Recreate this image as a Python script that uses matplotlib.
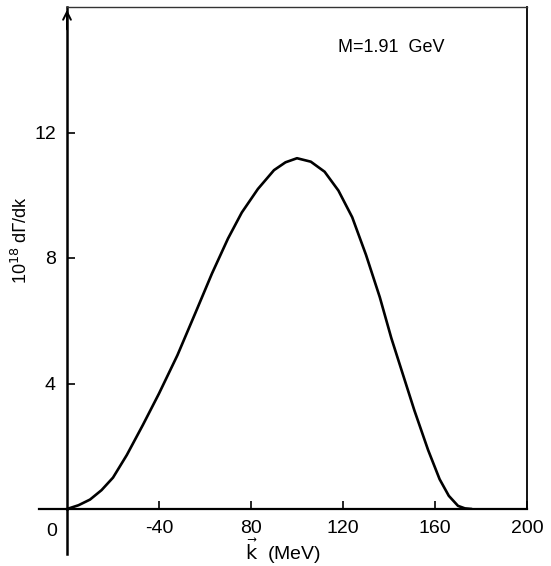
import matplotlib
matplotlib.use("Agg")
import matplotlib.pyplot as plt

# values
k_mev = [0, 5, 10, 15, 20, 26, 33, 40, 48, 56, 63, 70, 76, 83, 90, 95, 100,
         106, 112, 118, 124, 130, 136, 141, 146, 151, 157, 162, 166, 170,
         173, 176]
dgamma_dk = [0, 0.12, 0.3, 0.6, 1.0, 1.72, 2.68, 3.68, 4.9, 6.28, 7.5, 8.62,
             9.45, 10.2, 10.8, 11.05, 11.18, 11.07, 10.75, 10.15, 9.3, 8.1,
             6.75, 5.45, 4.3, 3.15, 1.88, 0.95, 0.42, 0.1, 0.02, 0]

x_ticks = [40, 80, 120, 160, 200]
x_tick_labels = ["-40", "80", "120", "160", "200"]
y_ticks = [4, 8, 12]
y_tick_labels = ["4", "8", "12"]

plt.rcParams['font.family'] = ['Liberation Sans', 'DejaVu Sans']

fig = plt.figure(figsize=(5.51, 5.66), dpi=100)
W, H = 551, 566
ax = fig.add_axes([67 / W, 1 - 509 / H, (527 - 67) / W, (509 - 7) / H])

ax.plot(k_mev, dgamma_dk, color="black", lw=1.9, solid_capstyle="round",
        solid_joinstyle="round")

ax.set_xlim(0, 200)
ax.set_ylim(0, 16)

ax.set_xticks(x_ticks)
ax.set_xticklabels(x_tick_labels)
ax.set_yticks(y_ticks)
ax.set_yticklabels(y_tick_labels)
ax.tick_params(axis="both", direction="in", length=6, width=1.2,
               labelsize=14, colors="black")
ax.tick_params(axis="x", pad=8)
ax.tick_params(axis="y", pad=8)

# frame: heavy axes, light top/right border
ax.spines['left'].set_linewidth(1.8)
ax.spines['bottom'].set_linewidth(1.6)
ax.spines['top'].set_linewidth(1.0)
ax.spines['right'].set_linewidth(1.3)
ax.spines['top'].set_color("#333333")

# axis lines running past the origin
ax.plot([0, 0], [0, -0.09], transform=ax.transAxes, color="black",
        lw=1.8, clip_on=False)
ax.plot([-0.06, 0], [0, 0], transform=ax.transAxes, color="black",
        lw=1.6, clip_on=False)

# arrowhead on the vertical axis
ax.annotate("", xy=(0, 1.0), xytext=(0, 0.95), xycoords="axes fraction",
            arrowprops=dict(arrowstyle="->", lw=1.4, color="black",
                            mutation_scale=14))

ax.text(-0.022, -0.045, "0", transform=ax.transAxes, ha="right",
        va="center", fontsize=14)

ax.text(0.47, -0.085, r"$\vec{\mathrm{k}}$  (MeV)", transform=ax.transAxes,
        ha="center", va="center", fontsize=14)
ax.text(-0.1, 0.535, r"10$^{18}$ d$\Gamma$/dk", transform=ax.transAxes,
        ha="center", va="center", rotation=90, fontsize=13)

ax.text(0.59, 0.92, "M=1.91  GeV", transform=ax.transAxes,
        ha="left", va="center", fontsize=13)

fig.savefig("out.png", dpi=100)
